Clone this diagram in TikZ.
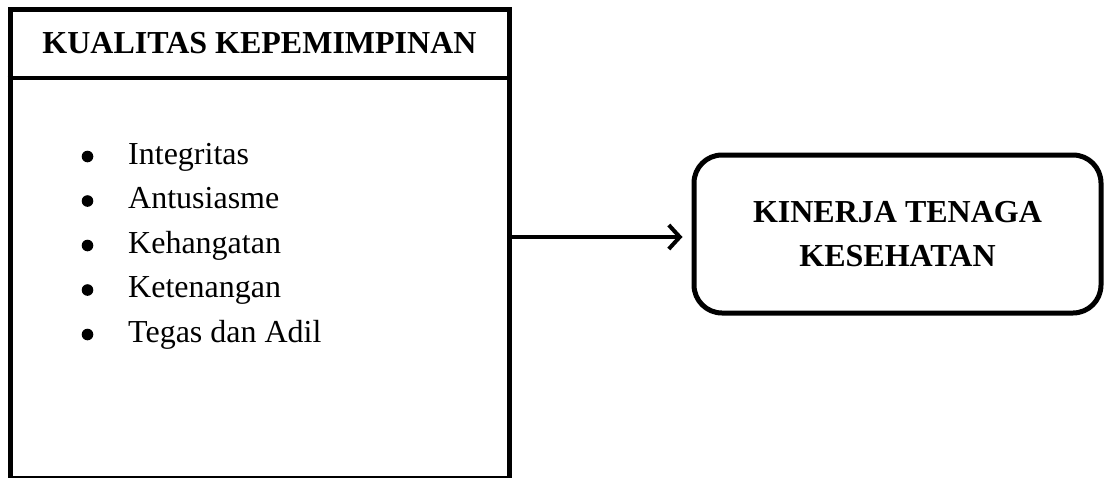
\documentclass[tikz,border=0pt]{standalone}
\usepackage{fontspec}
\setmainfont{Liberation Serif}
\usetikzlibrary{arrows.meta}
\begin{document}
\begin{tikzpicture}[x=1pt,y=-1pt,
  boxline/.style={line width=5pt},
  itemtext/.style={anchor=base west,inner sep=0pt,font=\fontsize{32}{44}\selectfont},
  bul/.style={fill=black},
  head/.style={font=\fontsize{32}{44}\selectfont\bfseries,inner sep=0pt}]
\useasboundingbox (0,0) rectangle (1105,477);
% left box
\node[draw,boxline,rectangle,minimum width=499pt,minimum height=469pt,inner sep=0pt] (kualitas) at (259.5,243.5) {};
\node[head,anchor=base] (judul) at (259.5,53) {KUALITAS KEPEMIMPINAN};
\draw[line width=4pt] (kualitas.west |- 0,78) -- (kualitas.east |- 0,78);
% items
\node[itemtext] (i1) at (128,164) {Integritas};
\node[itemtext] (i2) at (128,208.5) {Antusiasme};
\node[itemtext] (i3) at (128,253) {Kehangatan};
\node[itemtext] (i4) at (128,297.5) {Ketenangan};
\node[itemtext] (i5) at (128,342) {Tegas dan Adil};
\foreach \yy in {164,208.5,253,297.5,342}
  \fill[bul] (87.5,\yy-7.5) circle (5.8pt);
% right box
\node[draw,boxline,rounded corners=28pt,minimum width=407pt,minimum height=158pt,
  align=center,font=\fontsize{32}{44}\selectfont\bfseries,inner sep=0pt] (kinerja) at (897.5,234)
  {KINERJA TENAGA\\KESEHATAN};
% arrow
\draw[line width=4pt,-{Straight Barb[length=11pt,width=24pt,line width=4pt]}]
  (kualitas.east |- 0,237) -- ([xshift=-9pt,yshift=-3pt]kinerja.west);
\end{tikzpicture}
\end{document}
